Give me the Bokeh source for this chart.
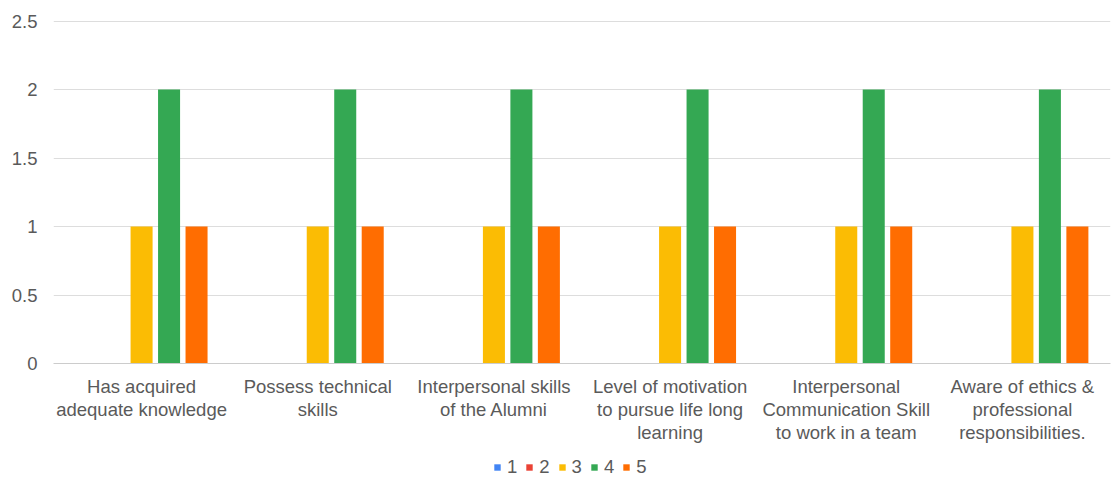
from bokeh.plotting import figure
from bokeh.layouts import column
from bokeh.models import FactorRange, Range1d, FixedTicker, Legend, LegendItem, ColumnDataSource
from bokeh.transform import dodge
from bokeh.embed import file_html
from bokeh.resources import INLINE

categories = [
    "Has acquired\nadequate knowledge",
    "Possess technical\nskills",
    "Interpersonal skills\nof the Alumni",
    "Level of motivation\nto pursue life long\nlearning",
    "Interpersonal\nCommunication Skill\nto work in a team",
    "Aware of ethics &\nprofessional\nresponsibilities.",
]
series_names = ["1", "2", "3", "4", "5"]
s1 = [0, 0, 0, 0, 0, 0]
s2 = [0, 0, 0, 0, 0, 0]
s3 = [1, 1, 1, 1, 1, 1]
s4 = [2, 2, 2, 2, 2, 2]
s5 = [1, 1, 1, 1, 1, 1]
colors = ["#4285F4", "#EA4335", "#FBBC04", "#34A853", "#FF6D01"]
y_ticks = [0, 0.5, 1, 1.5, 2, 2.5]

src = ColumnDataSource(dict(cat=categories, s1=s1, s2=s2, s3=s3, s4=s4, s5=s5))
keys = ["s1", "s2", "s3", "s4", "s5"]

p = figure(x_range=FactorRange(*categories), y_range=Range1d(0, 2.504),
           width=1111, height=445, output_backend="svg", toolbar_location=None,
           min_border_left=53, min_border_right=1, min_border_top=20, min_border_bottom=82)
p.x_range.range_padding = 0
p.outline_line_color = None

step = 0.156
bw = 0.125
for i, key in enumerate(keys):
    p.vbar(x=dodge("cat", (i - 2) * step, range=p.x_range), top=key, width=bw,
           source=src, color=colors[i], line_color=None)

p.xgrid.grid_line_color = None
p.ygrid.grid_line_color = "#DDDDDD"
p.ygrid.grid_line_width = 1
p.yaxis.ticker = FixedTicker(ticks=y_ticks)
p.yaxis.major_label_overrides = {0: "0", 0.5: "0.5", 1: "1", 1.5: "1.5", 2: "2", 2.5: "2.5"}
p.yaxis.axis_line_color = None
p.yaxis.major_tick_line_color = None
p.yaxis.minor_tick_line_color = None
p.yaxis.major_label_standoff = 10
for ax in (p.xaxis[0], p.yaxis[0]):
    ax.major_label_text_font = "Liberation Sans"
    ax.major_label_text_font_size = "18.5px"
    ax.major_label_text_color = "#5A5A5A"
p.xaxis.axis_line_color = "#CCCCCC"
p.xaxis.major_tick_line_color = None
p.xaxis.minor_tick_line_color = None
p.xaxis.major_label_standoff = 6
p.xaxis.major_label_text_line_height = 1.1

# legend strip below the chart (its zero-width bars draw nothing, only the legend shows)
lf = figure(width=1111, height=33, output_backend="svg", toolbar_location=None,
            x_axis_type=None, y_axis_type=None,
            x_range=FactorRange(*categories), y_range=Range1d(-3, -2),
            min_border=0)
lf.outline_line_color = None
lf.xgrid.grid_line_color = None
lf.ygrid.grid_line_color = None
leg_renderers = []
for i, key in enumerate(keys):
    r = lf.vbar(x="cat", top=key, width=0, source=src, fill_color=colors[i], line_color=None)
    leg_renderers.append(r)

legend = Legend(items=[LegendItem(label=n, renderers=[r]) for n, r in zip(series_names, leg_renderers)],
                orientation="horizontal", location=(440, 0),
                label_text_font="Liberation Sans", label_text_font_size="18.5px",
                label_text_color="#5A5A5A", glyph_width=8, glyph_height=8,
                label_width=0, spacing=8, label_standoff=6, border_line_color=None,
                background_fill_alpha=0, padding=0, margin=0)
lf.add_layout(legend, "center")

layout = column(p, lf, spacing=0)
open("out.html", "w").write(file_html(layout, INLINE))
